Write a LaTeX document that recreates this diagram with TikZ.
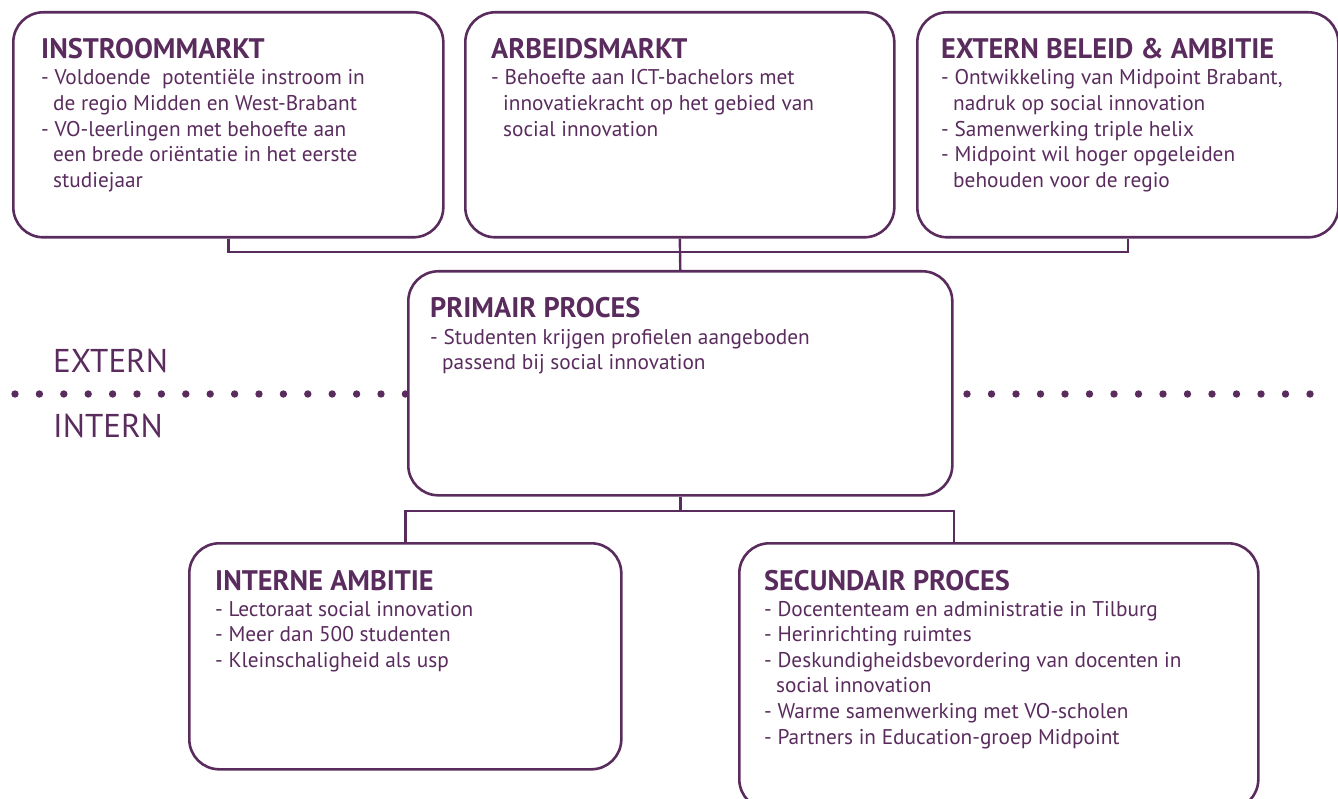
\documentclass[tikz,border=0pt]{standalone}
\usepackage{fontspec}
\setmainfont{PT Sans}
\usetikzlibrary{calc}
\definecolor{plum}{HTML}{5A2C5E}
\begin{document}
\begin{tikzpicture}[x=1pt,y=-1pt,
  box/.style={draw=plum, line width=2.6pt, rounded corners=30pt, inner sep=0pt, anchor=north west},
  conn/.style={draw=plum, line width=2.4pt},
  ttl/.style={anchor=base west, inner sep=0pt, text=plum, font=\fontsize{28.3}{30}\selectfont\bfseries},
  body/.style={anchor=base west, inner sep=0pt, text=plum, align=left, font=\fontsize{21.3}{25.6}\selectfont},
  side/.style={anchor=base west, inner sep=0pt, text=plum, font=\fontsize{33}{36}\selectfont}
]
\useasboundingbox (0,0) rectangle (1338,799);
\newcommand{\ind}{\hspace*{12pt}}
% boxes
\node[box, minimum width=430pt, minimum height=225pt] (b1) at (12,11) {};
\node[box, minimum width=429pt, minimum height=225pt] (b2) at (464,11) {};
\node[box, minimum width=421pt, minimum height=225pt] (b3) at (916,11) {};
\node[box, minimum width=544pt, minimum height=224pt] (b4) at (407,270) {};
\node[box, minimum width=432pt, minimum height=226pt] (b5) at (188,542) {};
\node[box, minimum width=519pt, minimum height=266pt] (b6) at (738,542) {};
% texts (body nodes are anchored at the baseline of their last line)
\node[ttl] (t1) at ($(b1.north west)+(29,48)$) {INSTROOMMARKT};
\node[body] (x1) at ($(b1.north west)+(29,176.4)$) {- Voldoende\ \ potentiële instroom in\\\ind de regio Midden en West-Brabant\\- VO-leerlingen met behoefte aan\\\ind een brede oriëntatie in het eerste\\\ind studiejaar};
\node[ttl] (t2) at ($(b2.north west)+(27,48)$) {ARBEIDSMARKT};
\node[body] (x2) at ($(b2.north west)+(27,125.2)$) {- Behoefte aan ICT-bachelors met\\\ind innovatiekracht op het gebied van\\\ind social innovation};
\node[ttl] (t3) at ($(b3.north west)+(25,48)$) {EXTERN BELEID \& AMBITIE};
\node[body] (x3) at ($(b3.north west)+(25,176.4)$) {- Ontwikkeling van Midpoint Brabant,\\\ind nadruk op social innovation\\- Samenwerking triple helix\\- Midpoint wil hoger opgeleiden\\\ind behouden voor de regio};
\node[ttl] (t4) at ($(b4.north west)+(23,48)$) {PRIMAIR PROCES};
\node[body] (x4) at ($(b4.north west)+(23,99.6)$) {- Studenten krijgen profielen aangeboden\\\ind passend bij social innovation};
\node[ttl] (t5) at ($(b5.north west)+(27,48)$) {INTERNE AMBITIE};
\node[body] (x5) at ($(b5.north west)+(27,125.2)$) {- Lectoraat social innovation\\- Meer dan 500 studenten\\- Kleinschaligheid als usp};
\node[ttl] (t6) at ($(b6.north west)+(26,48)$) {SECUNDAIR PROCES};
\node[body] (x6) at ($(b6.north west)+(26,202)$) {- Docententeam en administratie in Tilburg\\- Herinrichting ruimtes\\- Deskundigheidsbevordering van docenten in\\\ind social innovation\\- Warme samenwerking met VO-scholen\\- Partners in Education-groep Midpoint};
% side labels
\node[side] (ext) at (53,372) {EXTERN};
\node[side] (int) at (53,437) {INTERN};
% dotted divider
\foreach \i in {0,...,16} \fill[plum] (15+\i*24.4,394) circle (3.7pt);
\foreach \i in {0,...,14} \fill[plum] (967+\i*24.5,394) circle (3.7pt);
% connectors
\coordinate (h1) at (0,252);
\coordinate (h2) at (0,511);
\coordinate (c6) at ($(b6.north west)+(216,0)$);
\draw[conn] (b1.south) -- (b1.south |- h1) -- (b3.south |- h1) -- (b3.south);
\draw[conn] (b2.south) -- (b4.north);
\draw[conn] (b4.south) -- (b4.south |- h2);
\draw[conn] (b5.north) -- (b5.north |- h2) -- (c6 |- h2) -- (c6);
\end{tikzpicture}
\end{document}
